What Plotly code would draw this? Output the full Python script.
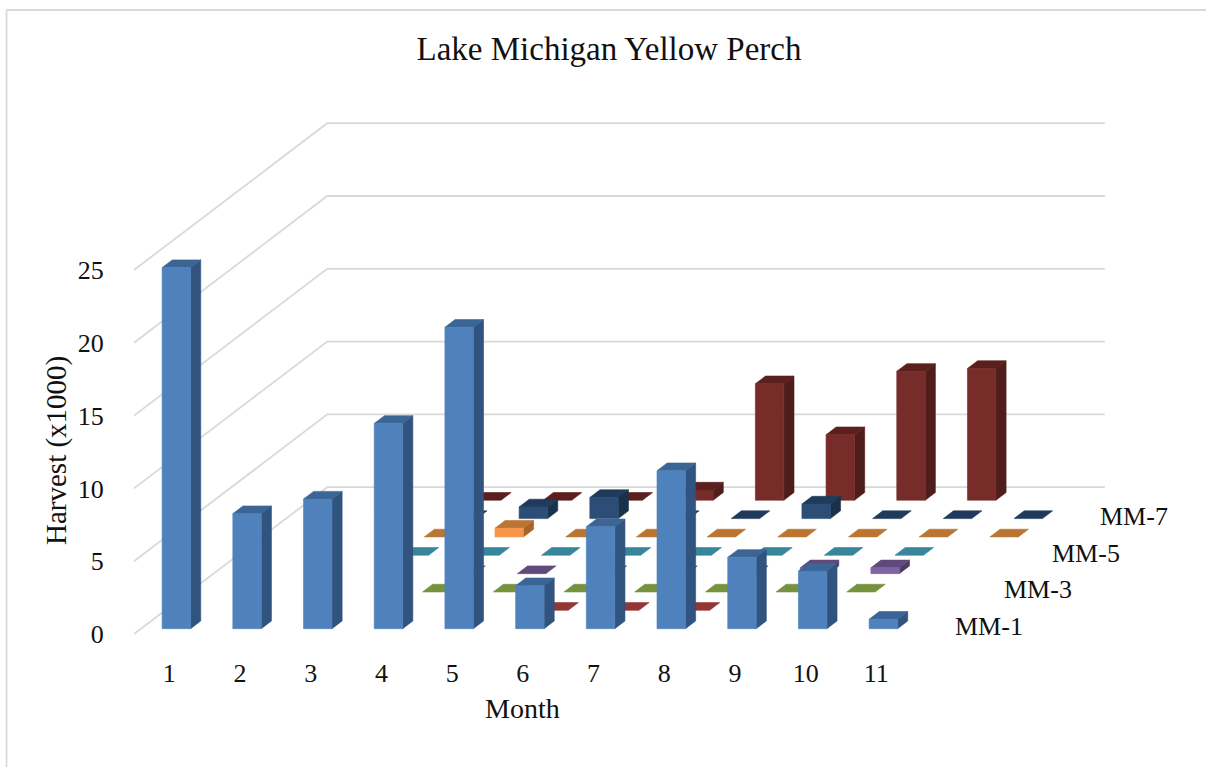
import plotly.graph_objects as go

MONTHS = list(range(1, 12))
VALUE_TICKS = [0, 5, 10, 15, 20, 25]
SERIES_NAMES = ["MM-1", "MM-2", "MM-3", "MM-4", "MM-5", "MM-6", "MM-7", "MM-8"]
DEPTH_LABELS = {"MM-1": "MM-1", "MM-3": "MM-3", "MM-5": "MM-5", "MM-7": "MM-7"}

_ = None
MM_1 = [24.8, 7.9, 8.9, 14.1, 20.7, 2.95, 7.0, 10.85, 4.9, 3.95, 0.65]
MM_2 = [_, _, _, _, _, 0, 0, 0, _, _, _]
MM_3 = [_, _, _, 0, 0, 0, 0, 0, 0, 0, _]
MM_4 = [_, _, _, 0, 0, 0, 0, 0, 0.4, 0.4, _]
MM_5 = [_, _, 0, 0, 0, 0, 0, 0, 0, 0, _]
MM_6 = [_, _, 0, 0.6, 0, 0, 0, 0, 0, 0, 0]
MM_7 = [_, _, 0, 0.8, 1.45, 0, 0, 1.0, 0, 0, 0]
MM_8 = [_, _, 0, 0, 0, 0.7, 8.0, 4.5, 8.85, 9.05, _]
SERIES_VALUES = [MM_1, MM_2, MM_3, MM_4, MM_5, MM_6, MM_7, MM_8]

# front, side, top colours for each series
FRONT = ["#4F81BD", "#B04542", "#8CAB4C", "#8064A2", "#3F97AF", "#F79646", "#2C4D75", "#772C2A"]
SIDE = ["#30537F", "#6B2A28", "#566B2E", "#4D3C62", "#27606F", "#A86326", "#1B3149", "#4F1D1C"]
TOP = ["#3A6595", "#943634", "#76923C", "#604A7B", "#37869B", "#BA7532", "#1F3A5A", "#5B1F1D"]

W, H = 1206, 767
PX_MONTH = 70.7      # pixels per month along the front
PX_VALUE = 14.56     # pixels per value unit
ORIGIN_X, ORIGIN_Y = 134.0, 634.0  # pixel of front-left floor corner
KX = 24.15 / PX_MONTH  # shift per series, in month units
KY = 18.35 / PX_VALUE  # shift per series, in value units
BAR_W = 0.403
D0, D1 = 0.29, 0.71
N_DEPTH = len(SERIES_NAMES)

L, R, T, B = 118, 1190, 70, 646
x_range = [0.5 + (L - ORIGIN_X) / PX_MONTH, 0.5 + (R - ORIGIN_X) / PX_MONTH]
y_range = [(ORIGIN_Y - B) / PX_VALUE, (ORIGIN_Y - T) / PX_VALUE]


def proj(month, value, depth):
    return month + depth * KX, value + depth * KY


def px(x_pixel):
    return (x_pixel - L) / (R - L)


def py(y_pixel):
    return (B - y_pixel) / (B - T)


fig = go.Figure()

# gridlines: side wall + back wall
for v in VALUE_TICKS:
    p0 = proj(0.5, v, 0)
    p1 = proj(0.5, v, N_DEPTH)
    p2 = proj(MONTHS[-1] + 0.5, v, N_DEPTH)
    fig.add_trace(go.Scatter(
        x=[p0[0], p1[0], p2[0]], y=[p0[1], p1[1], p2[1]], mode="lines",
        line=dict(color="#D9D9D9", width=1.8), hoverinfo="skip", showlegend=False))


def add_poly(xs, ys, color, name, edge=None):
    fig.add_trace(go.Scatter(
        x=xs, y=ys, mode="lines", fill="toself", fillcolor=color, name=name,
        line=dict(color=edge or color, width=0.6), hoverinfo="skip", showlegend=False))


# bars, back to front
for d in range(N_DEPTH - 1, -1, -1):
    name = SERIES_NAMES[d]
    fx, fy, sx, sy, tx, ty = [], [], [], [], [], []
    for month, v in zip(MONTHS, SERIES_VALUES[d]):
        if v is None:
            continue
        a = month - BAR_W / 2
        b = month + BAR_W / 2
        c = [proj(a, 0, d + D0), proj(b, 0, d + D0), proj(b, v, d + D0), proj(a, v, d + D0)]
        if v > 0:
            fx += [p[0] for p in c] + [c[0][0], None]
            fy += [p[1] for p in c] + [c[0][1], None]
            s = [proj(b, 0, d + D0), proj(b, 0, d + D1), proj(b, v, d + D1), proj(b, v, d + D0)]
            sx += [p[0] for p in s] + [s[0][0], None]
            sy += [p[1] for p in s] + [s[0][1], None]
        t = [proj(a, v, d + D0), proj(b, v, d + D0), proj(b, v, d + D1), proj(a, v, d + D1)]
        tx += [p[0] for p in t] + [t[0][0], None]
        ty += [p[1] for p in t] + [t[0][1], None]
    if sx:
        add_poly(sx, sy, SIDE[d], name)
    add_poly(tx, ty, TOP[d], name)
    if fx:
        add_poly(fx, fy, FRONT[d], name)

FONT = "Liberation Serif"
annotations = []
for d, name in enumerate(SERIES_NAMES):
    if name in DEPTH_LABELS:
        lx, ly = proj(MONTHS[-1] + 1.09, 0.52, d)
        annotations.append(dict(x=lx, y=ly, xref="x", yref="y", text=DEPTH_LABELS[name],
                                showarrow=False, xanchor="left", yanchor="middle",
                                font=dict(family=FONT, size=26, color="#111111")))
annotations.append(dict(x=px(57), y=py(451), xref="paper", yref="paper", text="Harvest (x1000)",
                        textangle=-90, showarrow=False, xanchor="center", yanchor="middle",
                        font=dict(family=FONT, size=29, color="#111111")))
annotations.append(dict(x=px(522), y=py(708), xref="paper", yref="paper", text="Month",
                        showarrow=False, xanchor="center", yanchor="middle",
                        font=dict(family=FONT, size=28, color="#111111")))

shapes = [
    dict(type="line", xref="paper", yref="paper", x0=px(6.5), x1=px(6.5), y0=py(10), y1=py(767),
         line=dict(color="#D9D9D9", width=1.8)),
    dict(type="line", xref="paper", yref="paper", x0=px(6), x1=px(1206), y0=py(10), y1=py(10),
         line=dict(color="#D9D9D9", width=1.8)),
]

fig.update_layout(
    width=W, height=H, autosize=False,
    margin=dict(l=L, r=W - R, t=T, b=H - B, pad=0),
    paper_bgcolor="white", plot_bgcolor="white", showlegend=False,
    title=dict(text="Lake Michigan Yellow Perch", x=609 / W, xanchor="center",
               y=1 - 48 / H, yanchor="middle",
               font=dict(family=FONT, size=33, color="#111111")),
    xaxis=dict(range=x_range, tickmode="array", tickvals=MONTHS, ticktext=[str(m) for m in MONTHS],
               showgrid=False, zeroline=False, showline=False, ticks="outside", ticklen=4,
               tickcolor="rgba(0,0,0,0)", tickfont=dict(family=FONT, size=26, color="#111111")),
    yaxis=dict(range=y_range, tickmode="array", tickvals=VALUE_TICKS, ticktext=[str(v) for v in VALUE_TICKS],
               showgrid=False, zeroline=False, showline=False, ticks="outside", ticklen=8,
               tickcolor="rgba(0,0,0,0)", tickfont=dict(family=FONT, size=26, color="#111111")),
    annotations=annotations, shapes=shapes,
)

fig.write_html("out.html", config={"displayModeBar": False},
               post_script="document.body.style.margin='0';document.body.style.overflow='hidden';")
